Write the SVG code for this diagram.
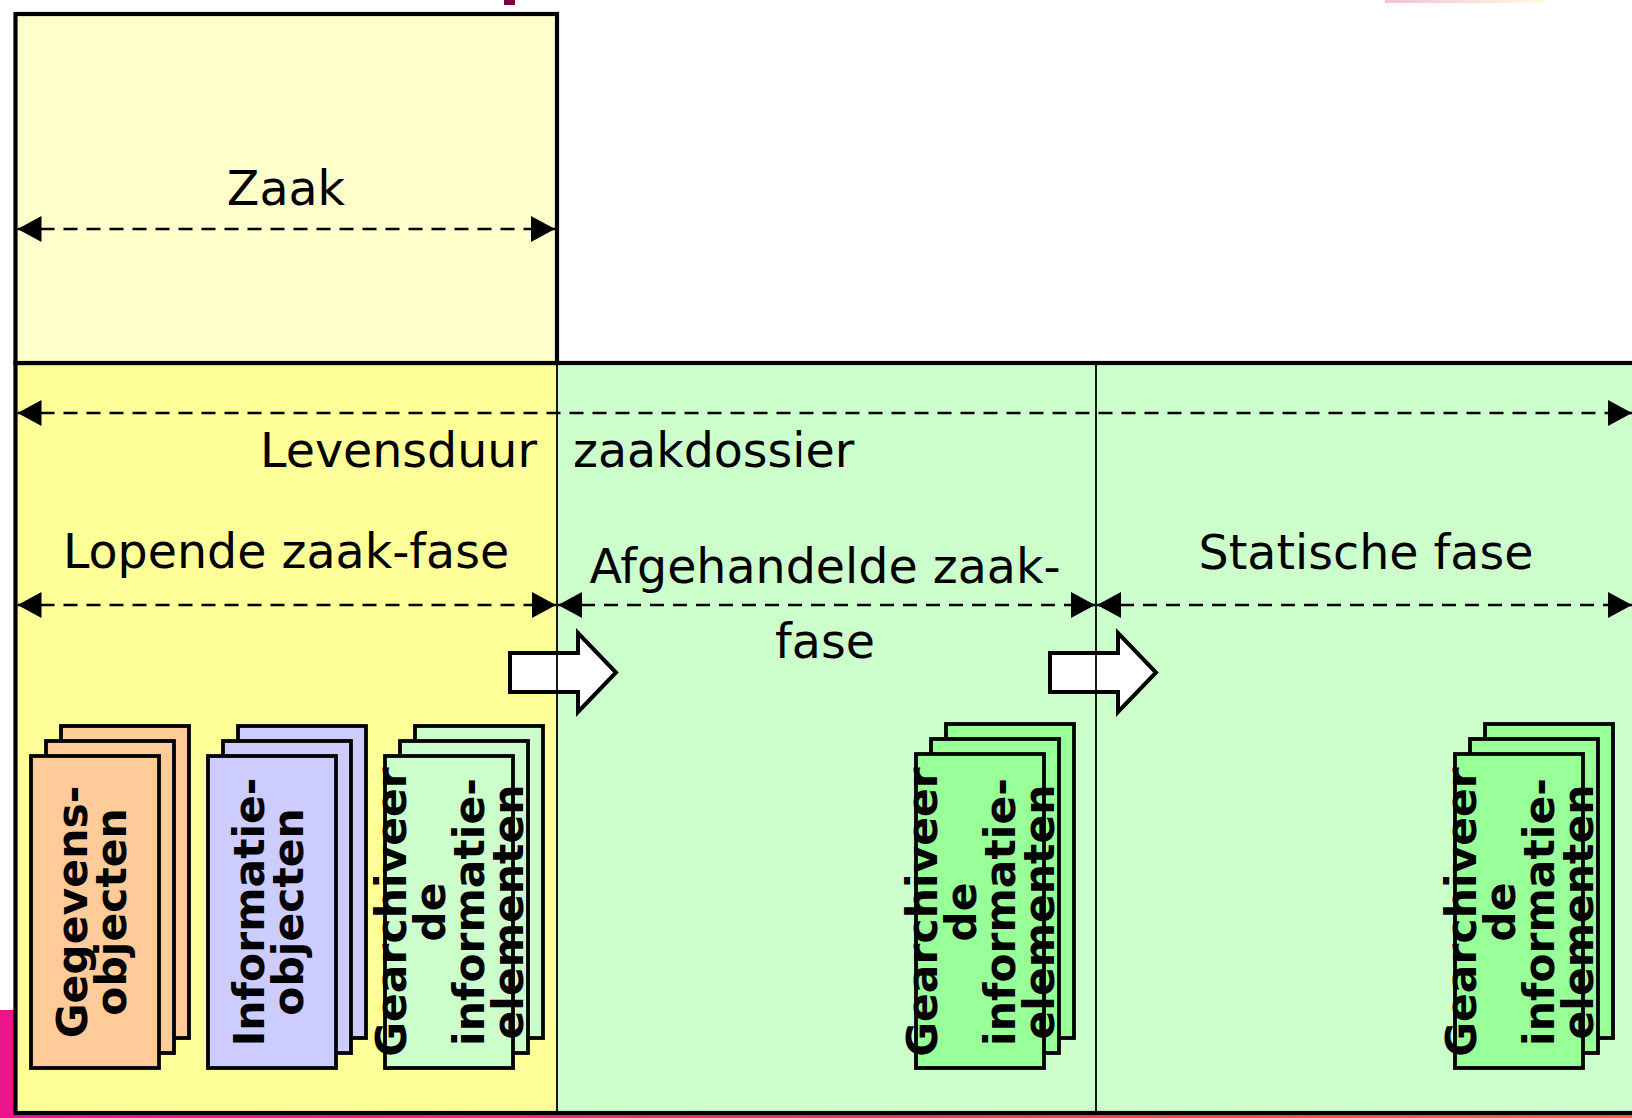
<svg xmlns="http://www.w3.org/2000/svg" width="1632" height="1118" viewBox="0 0 1632 1118">
  <style>
    .lbl { font-family: "DejaVu Sans", Verdana, sans-serif; font-size: 47.5px; fill: #000; }
    .doc { font-family: "DejaVu Sans", Verdana, sans-serif; font-size: 42.5px; font-weight: bold; fill: #000; text-anchor: middle; }
    .frame { stroke: #000; stroke-width: 4.2; }
    .divider { stroke: #000; stroke-width: 1.8; }
    .sheet { stroke: #000; stroke-width: 3.8; }
    .span { fill: none; stroke: #000; stroke-width: 2.5; stroke-dasharray: 14 9; marker-start: url(#head); marker-end: url(#head); }
    .block { fill: #fff; stroke: #000; stroke-width: 4; stroke-linejoin: miter; }
  </style>
  <defs>
    <marker id="head" viewBox="0 0 24 26" markerWidth="24" markerHeight="26" refX="24" refY="13" orient="auto-start-reverse" markerUnits="userSpaceOnUse">
      <path d="M0,0 L24,13 L0,26 z" fill="#000"/>
    </marker>
    <linearGradient id="strip" x1="0" y1="0" x2="1" y2="0">
      <stop offset="0" stop-color="#ec168c"/>
      <stop offset="0.55" stop-color="#ee3a5a"/>
      <stop offset="1" stop-color="#f26a3a"/>
    </linearGradient>
    <linearGradient id="glow" x1="0" y1="0" x2="1" y2="0">
      <stop offset="0" stop-color="#f080b0"/>
      <stop offset="1" stop-color="#fff6c0"/>
    </linearGradient>
  </defs>

  <!-- page background and slide edge decoration -->
  <rect x="0" y="0" width="1632" height="1118" fill="#fff"/>
  <rect x="0" y="1010" width="14" height="108" fill="#ec168c"/>
  <rect x="0" y="1114" width="1632" height="4" fill="url(#strip)"/>
  <rect x="504" y="0" width="11" height="5" fill="#7a003c"/>
  <rect x="1385" y="0" width="160" height="3" fill="url(#glow)" opacity="0.5"/>

  <!-- lifecycle panel: running phase (yellow), closed and static phases (green) -->
  <g id="lifecycle">
    <rect x="15.5" y="363" width="541.5" height="750" fill="#ffff99"/>
    <rect x="557" y="363" width="1080" height="750" fill="#ccffcc"/>
    <rect x="15.5" y="363" width="1630" height="750" fill="none" class="frame"/>
  </g>

  <!-- case box -->
  <g id="zaak">
    <rect x="15.5" y="14" width="541.5" height="349" fill="#ffffcc" class="frame"/>
    <text class="lbl" x="286" y="205" text-anchor="middle">Zaak</text>
  </g>

  <g id="levensduur">
    <text class="lbl" x="537" y="467" text-anchor="end">Levensduur</text>
    <text class="lbl" x="573" y="467">zaakdossier</text>
  </g>

  <g id="fase-lopend">
    <text class="lbl" x="286" y="568" text-anchor="middle">Lopende zaak-fase</text>
  </g>
  <g id="fase-afgehandeld">
    <text class="lbl" x="825" y="583" text-anchor="middle">Afgehandelde zaak-</text>
    <text class="lbl" x="825" y="658" text-anchor="middle">fase</text>
  </g>
  <g id="fase-statisch">
    <text class="lbl" x="1366" y="569" text-anchor="middle">Statische fase</text>
  </g>

  <!-- document stacks: three sheets offset by 15px -->
  <g id="stack-gegevens">
    <rect class="sheet" x="61" y="726" width="128" height="312" fill="#ffcc99"/>
    <rect class="sheet" x="46" y="741" width="128" height="312" fill="#ffcc99"/>
    <rect class="sheet" x="31" y="756" width="128" height="312" fill="#ffcc99"/>
    <text class="doc" transform="translate(86.5,912) rotate(-90)"><tspan x="0" y="0">Gegevens-</tspan><tspan x="0" dy="39">objecten</tspan></text>
  </g>

  <g id="stack-informatie">
    <rect class="sheet" x="238" y="726" width="128" height="312" fill="#ccccff"/>
    <rect class="sheet" x="223" y="741" width="128" height="312" fill="#ccccff"/>
    <rect class="sheet" x="208" y="756" width="128" height="312" fill="#ccccff"/>
    <text class="doc" transform="translate(263.5,912) rotate(-90)"><tspan x="0" y="0">Informatie-</tspan><tspan x="0" dy="39">objecten</tspan></text>
  </g>

  <g id="stack-archief-1">
    <rect class="sheet" x="415" y="726" width="128" height="312" fill="#ccffcc"/>
    <rect class="sheet" x="400" y="741" width="128" height="312" fill="#ccffcc"/>
    <rect class="sheet" x="385" y="756" width="128" height="312" fill="#ccffcc"/>
    <text class="doc" transform="translate(406,912) rotate(-90)"><tspan x="0" y="0">Gearchiveer</tspan><tspan x="0" dy="39">de</tspan><tspan x="0" dy="39">informatie-</tspan><tspan x="0" dy="39">elementen</tspan></text>
  </g>

  <g id="stack-archief-2">
    <rect class="sheet" x="946" y="724" width="128" height="314" fill="#99ff99"/>
    <rect class="sheet" x="931" y="739" width="128" height="314" fill="#99ff99"/>
    <rect class="sheet" x="916" y="754" width="128" height="314" fill="#99ff99"/>
    <text class="doc" transform="translate(937,912) rotate(-90)"><tspan x="0" y="0">Gearchiveer</tspan><tspan x="0" dy="39">de</tspan><tspan x="0" dy="39">informatie-</tspan><tspan x="0" dy="39">elementen</tspan></text>
  </g>

  <g id="stack-archief-3">
    <rect class="sheet" x="1485" y="724" width="128" height="314" fill="#99ff99"/>
    <rect class="sheet" x="1470" y="739" width="128" height="314" fill="#99ff99"/>
    <rect class="sheet" x="1455" y="754" width="128" height="314" fill="#99ff99"/>
    <text class="doc" transform="translate(1476,912) rotate(-90)"><tspan x="0" y="0">Gearchiveer</tspan><tspan x="0" dy="39">de</tspan><tspan x="0" dy="39">informatie-</tspan><tspan x="0" dy="39">elementen</tspan></text>
  </g>

  <!-- phase transitions, spans and phase dividers -->
  <g id="connectors">
    <polygon class="block" points="510,653 578,653 578,633 616,672.5 578,712 578,692 510,692"/>
    <polygon class="block" points="1050,653 1118,653 1118,633 1156,672.5 1118,712 1118,692 1050,692"/>
    <line class="divider" x1="557" y1="363" x2="557" y2="1112"/>
    <line class="divider" x1="1096" y1="363" x2="1096" y2="1112"/>
    <line class="span" x1="17.5" y1="229" x2="555" y2="229"/>
    <line class="span" x1="17.5" y1="413" x2="1632" y2="413"/>
    <line class="span" x1="17.5" y1="605" x2="556" y2="605"/>
    <line class="span" x1="558" y1="605" x2="1095" y2="605"/>
    <line class="span" x1="1097" y1="605" x2="1632" y2="605"/>
  </g>
</svg>
